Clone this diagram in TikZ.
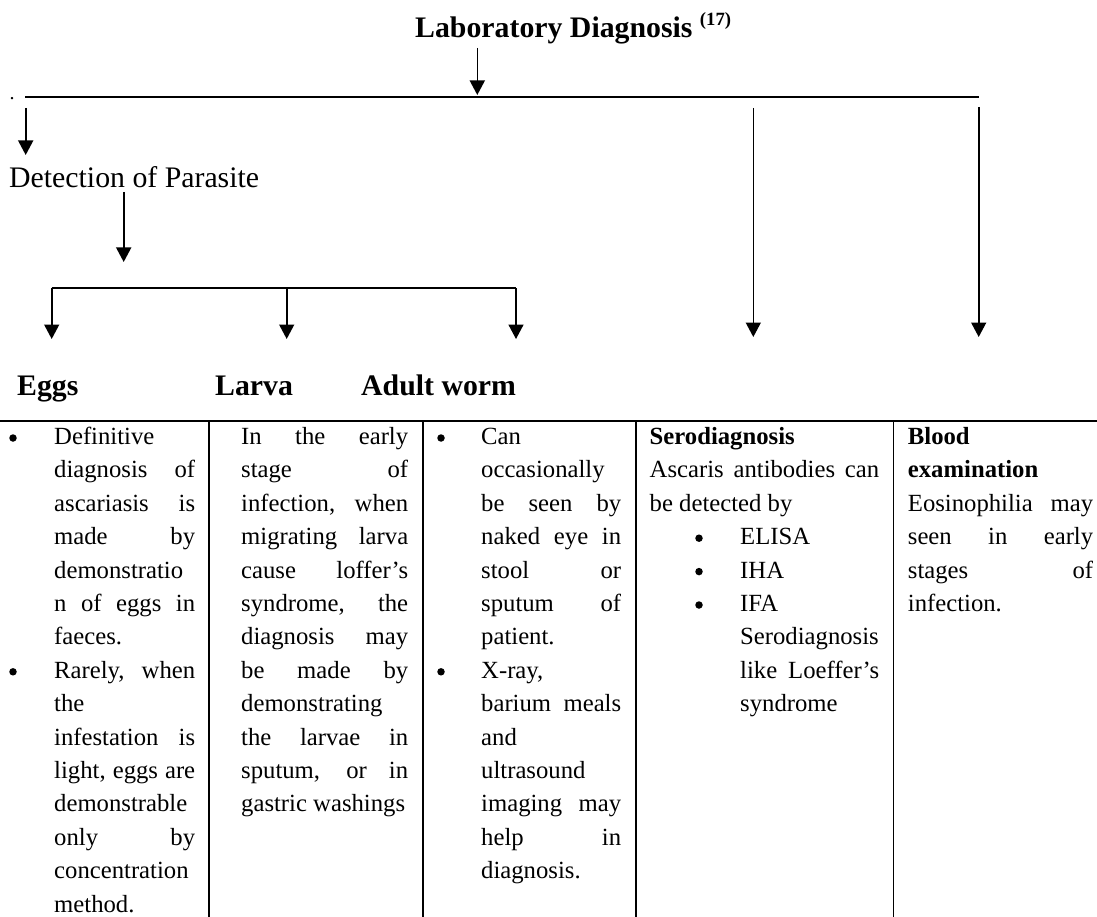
\documentclass[tikz,border=0pt]{standalone}
\usepackage{fontspec}
\setmainfont{Liberation Serif}
\usetikzlibrary{arrows.meta}
\newcommand\bodysize{\fontsize{24.7}{33.4}\selectfont}
\newcommand\headsize{\fontsize{29.8}{36}\selectfont}
\newcommand\rowY[1]{444.5+33.4*(#1-1)}
\newcommand\colline[4]{\node[body] (#1) at (#2,{\rowY{#3}}) {#4};}
\newcommand\coljust[5]{\node[body] (#1) at (#2,{\rowY{#3}}) {\makebox[#4pt][s]{#5}};}
\newcommand\colbul[3]{\node[bul] (#1) at (#2,{\rowY{#3}-6.5}) {};}
\tikzset{
  body/.style={anchor=base west, inner sep=0pt, font=\bodysize},
  bul/.style={circle, fill=black, inner sep=0pt, minimum size=7.5pt},
  head/.style={anchor=base west, inner sep=0pt, font=\headsize\bfseries},
  arr/.style={line width=1.6pt, -{Triangle[width=15pt,length=14.5pt]}},
  rulel/.style={line width=2pt},
  sepl/.style={line width=1.6pt}
}
\begin{document}
\begin{tikzpicture}[x=1pt,y=-1pt]
\fill[white] (0,0) rectangle (1097,917);
\useasboundingbox (0,0) rectangle (1097,917);
% title
\node[head] (title) at (415,38) {Laboratory Diagnosis \raisebox{12pt}{\fontsize{18.7}{20}\selectfont (17)}};
\node[anchor=base west, inner sep=0pt, font=\fontsize{20}{24}\selectfont] (dot) at (9.5,100) {.};
\coordinate (ta) at (477.3,48);
\coordinate (tb) at (477.3,95);
\draw[arr] (ta) -- (tb);
\coordinate (hl) at (25,97);
\coordinate (hr) at (979.3,97);
\draw[rulel] (hl) -- (hr);
% left branch
\coordinate (la) at (25.7,108);
\coordinate (lb) at (25.7,155);
\draw[arr] (la) -- (lb);
\node[anchor=base west, inner sep=0pt, font=\headsize] (det) at (9,188) {Detection of Parasite};
\coordinate (da) at (123.7,192);
\coordinate (db) at (123.7,262);
\draw[arr] (da) -- (db);
% right arrows
\coordinate (sa) at (753.3,108);
\coordinate (sb) at (753.3,337);
\draw[arr] (sa) -- (sb);
\coordinate (ba) at (978.7,107);
\coordinate (bb) at (978.7,337);
\draw[arr] (ba) -- (bb);
% sub branch
\coordinate (b1) at (51.7,288);
\coordinate (b2) at (286.7,288);
\coordinate (b3) at (516,288);
\coordinate (e1) at (51.7,339);
\coordinate (e2) at (286.7,339);
\coordinate (e3) at (516,339);
\draw[rulel] (b1) -- (b3);
\draw[arr] (b1) -- (e1);
\draw[arr] (b2) -- (e2);
\draw[arr] (b3) -- (e3);
\node[head] (eggs) at (17,395) {Eggs};
\node[head] (larva) at (215,395) {Larva};
\node[head] (adult) at (361,395) {Adult worm};
% table
\coordinate (tl) at (0,421);
\coordinate (tr) at (1097,421);
\draw[rulel] (tl) -- (tr);
\coordinate (s1t) at (209,421); \coordinate (s1b) at (209,917);
\coordinate (s2t) at (422.7,421); \coordinate (s2b) at (422.7,917);
\coordinate (s3t) at (635.7,421); \coordinate (s3b) at (635.7,917);
\coordinate (s4t) at (893.3,421); \coordinate (s4b) at (893.3,917);
\draw[sepl] (s1t) -- (s1b);
\draw[sepl] (s2t) -- (s2b);
\draw[sepl] (s3t) -- (s3b);
\draw[sepl] (s4t) -- (s4b);
% column 1
\colbul{ab1}{13}{1}
\colbul{ab2}{13}{8}
\colline{a1}{54}{1}{Definitive}
\coljust{a2}{54}{2}{141}{diagnosis of}
\coljust{a3}{54}{3}{141}{ascariasis is}
\coljust{a4}{54}{4}{141}{made by}
\colline{a5}{54}{5}{demonstratio}
\coljust{a6}{54}{6}{141}{n of eggs in}
\colline{a7}{54}{7}{faeces.}
\coljust{a8}{54}{8}{141}{Rarely, when}
\colline{a9}{54}{9}{the}
\coljust{a10}{54}{10}{141}{infestation is}
\coljust{a11}{54}{11}{141}{light, eggs are}
\colline{a12}{54}{12}{demonstrable}
\coljust{a13}{54}{13}{141}{only by}
\colline{a14}{54}{14}{concentration}
\colline{a15}{54}{15}{method.}
% column 2
\coljust{c1}{241}{1}{167}{In the early}
\coljust{c2}{241}{2}{167}{stage of}
\coljust{c3}{241}{3}{167}{infection, when}
\coljust{c4}{241}{4}{167}{migrating larva}
\coljust{c5}{241}{5}{167}{cause loffer’s}
\coljust{c6}{241}{6}{167}{syndrome, the}
\coljust{c7}{241}{7}{167}{diagnosis may}
\coljust{c8}{241}{8}{167}{be made by}
\colline{c9}{241}{9}{demonstrating}
\coljust{c10}{241}{10}{167}{the larvae in}
\coljust{c11}{241}{11}{167}{sputum, or in}
\colline{c12}{241}{12}{gastric washings}
% column 3
\colbul{db1}{441}{1}
\colbul{db2}{441}{8}
\colline{d1}{481}{1}{Can}
\colline{d2}{481}{2}{occasionally}
\coljust{d3}{481}{3}{140}{be seen by}
\coljust{d4}{481}{4}{140}{naked eye in}
\coljust{d5}{481}{5}{140}{stool or}
\coljust{d6}{481}{6}{140}{sputum of}
\colline{d7}{481}{7}{patient.}
\colline{d8}{481}{8}{X-ray,}
\coljust{d9}{481}{9}{140}{barium meals}
\colline{d10}{481}{10}{and}
\colline{d11}{481}{11}{ultrasound}
\coljust{d12}{481}{12}{140}{imaging may}
\coljust{d13}{481}{13}{140}{help in}
\colline{d14}{481}{14}{diagnosis.}
% column 4
\colline{f1}{649.5}{1}{\bfseries Serodiagnosis}
\coljust{f2}{649.5}{2}{229.5}{Ascaris antibodies can}
\colline{f3}{649.5}{3}{be detected by}
\colbul{fb1}{699}{4}
\colbul{fb2}{699}{5}
\colbul{fb3}{699}{6}
\colline{f4}{740}{4}{ELISA}
\colline{f5}{740}{5}{IHA}
\colline{f6}{740}{6}{IFA}
\colline{f7}{740}{7}{Serodiagnosis}
\coljust{f8}{740}{8}{139}{like Loeffer’s}
\colline{f9}{740}{9}{syndrome}
% column 5
\colline{g1}{907.7}{1}{\bfseries Blood}
\colline{g2}{907.7}{2}{\bfseries examination}
\coljust{g3}{907.7}{3}{185.3}{Eosinophilia may}
\coljust{g4}{907.7}{4}{185.3}{seen in early}
\coljust{g5}{907.7}{5}{185.3}{stages of}
\colline{g6}{907.7}{6}{infection.}
\end{tikzpicture}
\end{document}
